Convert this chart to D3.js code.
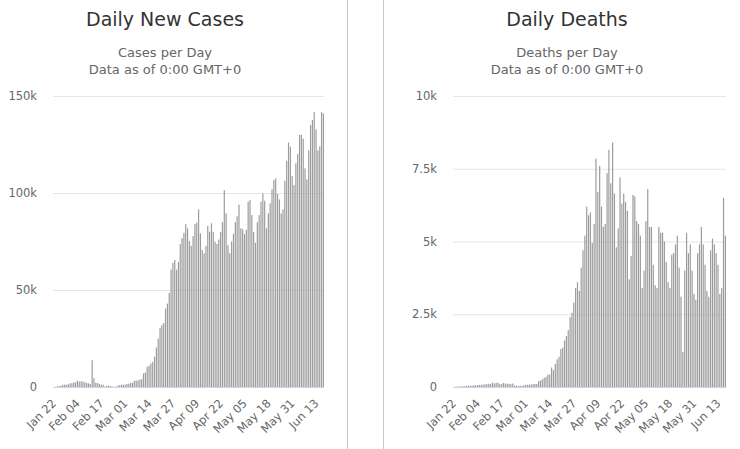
<!DOCTYPE html>
<html>
<head>
<meta charset="utf-8">
<script src="https://cdnjs.cloudflare.com/ajax/libs/d3/7.8.5/d3.min.js"></script>
<style>
  body { margin: 0; background: #fff; }
  svg { display: block; font-family: "DejaVu Sans", Verdana, sans-serif; }
</style>
</head>
<body>
<div id="chart"></div>
<script>
// ########## data #############
// one bar per day, Jan 22 .. Jun 17 2020
const firstDay = new Date(2020, 0, 22);
const lastDay = new Date(2020, 5, 17);
const days = d3.timeDay.range(firstDay, d3.timeDay.offset(lastDay, 1));

const tickLabels = ["Jan 22", "Feb 04", "Feb 17", "Mar 01", "Mar 14", "Mar 27",
                    "Apr 09", "Apr 22", "May 05", "May 18", "May 31", "Jun 13"];

const newCases = [
  0, 100, 290, 490, 680,
  1200, 1200, 1200, 1400, 1900, 1900, 2400, 2400, 3300, 2800,
  2900, 2800, 2400, 2100, 1900, 1500, 13800, 4600, 2100, 2100,
  1500, 1200, 1200, 200, 700, 700, 500, 200, 100, 200,
  700, 1000, 1200, 1200, 1200, 1500, 1700, 2100, 2200, 3100,
  3300, 3400, 3800, 4100,
  7000, 7500, 10500, 11000, 12200, 13000, 15600, 20300, 25000, 30500,
  31800, 33000, 40500, 43000, 48500, 60500, 64000, 65500, 60500, 64500,
  73700, 76800, 79500, 84000, 81800, 75200, 72700, 77800, 84000, 84700,
  91600, 79200, 70600, 68900, 72700, 83000, 80000, 84400, 80000, 74900,
  73700, 76000, 80000, 85000,
  101500, 89500, 73000, 69000, 75000, 79000, 85000, 88000, 94000, 81800,
  81300, 78900, 81000, 95500, 96400, 88600, 80000, 74400, 85000, 88600,
  95500, 99800, 96000, 81800, 89500, 94700, 102000, 106700, 107500, 99500,
  96700, 89500, 91600, 106300, 116600, 126000, 123900, 108700, 104000, 115300,
  120000, 130000, 130000, 128000, 112700, 107000, 122000, 135000, 137600, 141700,
  132800, 122000, 124000, 141700, 141000
];

const dailyDeaths = [
  0, 8, 16, 15, 24, 26, 26, 38, 43, 46,
  45, 57, 64, 66, 73, 73, 86, 89, 97, 108,
  97, 150, 121, 143, 142, 106, 98, 139, 116, 118,
  109, 97, 120, 50, 40, 30, 44, 37, 58, 67,
  73, 82, 87, 98, 103, 104,
  200, 220, 260, 320, 350, 420, 430,
  670, 580, 790, 950, 1040, 1300, 1350, 1600, 1750, 1950,
  2400, 2550, 2900, 3400, 3600, 3300, 4100, 4700, 5200, 6200,
  5900, 6000, 4950, 5600, 7850, 6700, 7600, 6200, 5500, 5600,
  7350, 8150, 7000, 8400, 6650, 4800, 5450, 7200, 6300, 6650,
  6360, 6050, 3700, 4500, 6600, 6550, 5700, 5600, 5200, 3400,
  4000, 5700, 6800, 5500, 5500, 4200, 3500, 3400, 5500, 5300,
  5300, 5000, 4300, 3600, 3400, 4550, 4600, 4900, 5200, 4100,
  3100, 1200, 4000, 5300, 4600, 4900, 4000, 3200, 3000, 4600,
  4900, 5500, 4900, 4200, 3300, 3100, 4700, 5100, 4900, 4600,
  4200, 3200, 3400, 6500, 5200
];

const casesTicks = [0, 50000, 100000, 150000];
const deathsTicks = [0, 2500, 5000, 7500, 10000];

// ########## layout #############
const width = 740, height = 449;
const panels = [
  { title: "Daily New Cases", subtitle: "Cases per Day", values: newCases,
    ticks: casesTicks, max: 150000, left: 53, right: 324, center: 165 },
  { title: "Daily Deaths", subtitle: "Deaths per Day", values: dailyDeaths,
    ticks: deathsTicks, max: 10000, left: 453, right: 726, center: 567 }
];
const plotTop = 96, plotBottom = 387;
const kFormat = v => v === 0 ? "0" : (v / 1000) + "k";
const dayFormat = d3.timeFormat("%b %d");

const svg = d3.select("#chart").append("svg")
    .attr("width", width).attr("height", height)
    .attr("viewBox", `0 0 ${width} ${height}`);

// panel borders
svg.selectAll(".divider")
    .data([347.5, 383.5]).enter()
    .append("line").attr("class", "divider")
    .attr("x1", d => d).attr("x2", d => d)
    .attr("y1", 0).attr("y2", height)
    .attr("stroke", "#c8c8c8").attr("stroke-width", 1);

function drawPanel(p) {
    const g = svg.append("g");

    const x = d3.scaleBand()
        .domain(days.map(d => +d))
        .range([p.left, p.right])
        .paddingInner(0.35);
    const y = d3.scaleLinear()
        .domain([0, p.max])
        .range([plotBottom, plotTop]);

    // titles
    g.append("text")
        .attr("x", p.center).attr("y", 26)
        .attr("text-anchor", "middle")
        .style("font-size", "19px").style("fill", "#333")
        .text(p.title);
    g.append("text")
        .attr("x", p.center).attr("y", 57)
        .attr("text-anchor", "middle")
        .style("font-size", "13px").style("fill", "#666")
        .text(p.subtitle);
    g.append("text")
        .attr("x", p.center).attr("y", 74)
        .attr("text-anchor", "middle")
        .style("font-size", "13px").style("fill", "#666")
        .text("Data as of 0:00 GMT+0");

    // y grid and labels
    const yAxis = d3.axisLeft(y)
        .tickValues(p.ticks)
        .tickSize(-(p.right - p.left))
        .tickPadding(16)
        .tickFormat(kFormat);
    g.append("g")
        .attr("transform", `translate(${p.left},0)`)
        .call(yAxis)
        .call(a => a.select(".domain").remove())
        .call(a => a.selectAll(".tick line").attr("stroke", "#e6e6e6"))
        .call(a => a.selectAll(".tick text")
            .style("font-size", "11.5px").style("fill", "#666")
            .style("font-family", "DejaVu Sans, sans-serif"));

    // bars
    g.append("g").selectAll("rect")
        .data(p.values).enter()
        .append("rect")
        .attr("x", (d, i) => x(+days[i]))
        .attr("width", x.bandwidth())
        .attr("y", d => y(d))
        .attr("height", d => plotBottom - y(d))
        .attr("fill", "#9c9c9c");

    // x axis line
    g.append("line")
        .attr("x1", p.left).attr("x2", p.right)
        .attr("y1", plotBottom + 0.5).attr("y2", plotBottom + 0.5)
        .attr("stroke", "#ccd6eb");

    // rotated date labels, every 13 days
    const tickDays = days.filter(d => tickLabels.includes(dayFormat(d)));
    g.append("g").selectAll("text")
        .data(tickDays).enter()
        .append("text")
        .attr("transform", d => {
            const tx = x(+d) + x.step() / 2 + 3;
            return `translate(${tx},${plotBottom + 17}) rotate(-45)`;
        })
        .attr("text-anchor", "end")
        .style("font-size", "11.5px").style("fill", "#666")
        .text(d => dayFormat(d));
}

panels.forEach(drawPanel);
</script>
</body>
</html>
